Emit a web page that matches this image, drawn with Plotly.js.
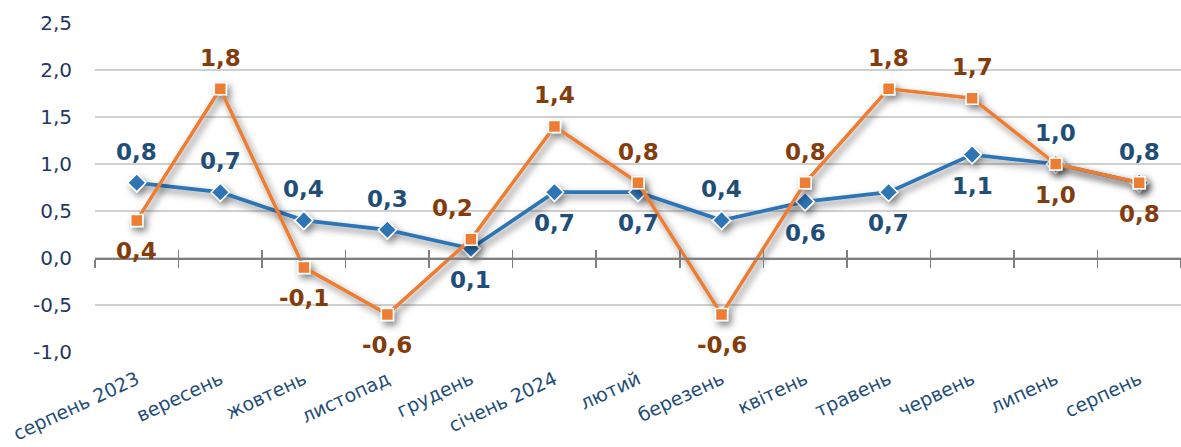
<!DOCTYPE html>
<html>
<head>
<meta charset="utf-8">
<script src="https://cdn.plot.ly/plotly-3.0.1.min.js"></script>
<style>
  html, body { margin: 0; padding: 0; background: #ffffff; }
  #chart { width: 1181px; height: 447px; }
</style>
</head>
<body>
<div id="chart"></div>
<script>
const months = ['серпень 2023', 'вересень', 'жовтень', 'листопад', 'грудень', 'січень 2024',
  'лютий', 'березень', 'квітень', 'травень', 'червень', 'липень', 'серпень'];
const blueValues = [0.8, 0.7, 0.4, 0.3, 0.1, 0.7, 0.7, 0.4, 0.6, 0.7, 1.1, 1.0, 0.8];
const orangeValues = [0.4, 1.8, -0.1, -0.6, 0.2, 1.4, 0.8, -0.6, 0.8, 1.8, 1.7, 1.0, 0.8];
const yTickValues = [-1.0, -0.5, 0.0, 0.5, 1.0, 1.5, 2.0, 2.5];
// label placement: 't' above, 'b' below, 'tl' above-left
const blueLabelPlace = ['t', 't', 't', 't', 'b', 'b', 'b', 't', 'b', 'b', 'b', 't', 't'];
const orangeLabelPlace = ['b', 't', 'b', 'b', 'tl', 't', 't', 'b', 't', 't', 't', 'b', 'b'];

const fmt = v => v.toFixed(1).replace('.', ',');

const BLUE = '#2E75B6', ORANGE = '#ED7D31';
const BLUE_TXT = '#1F4E79', ORANGE_TXT = '#843C0C';
const AXIS_TXT = '#1F3864';

const traces = [
  {
    x: months, y: blueValues, type: 'scatter', mode: 'lines+markers',
    line: { color: BLUE, width: 3.75 },
    marker: { symbol: 'diamond', size: 14, color: BLUE, line: { color: '#ffffff', width: 1.5 } },
    hoverinfo: 'skip', showlegend: false
  },
  {
    x: months, y: orangeValues, type: 'scatter', mode: 'lines+markers',
    line: { color: ORANGE, width: 3.5 },
    marker: { symbol: 'square', size: 12, color: ORANGE, line: { color: '#ffffff', width: 1.5 } },
    hoverinfo: 'skip', showlegend: false
  },
  { x: months, y: blueValues, xaxis: 'x2', type: 'scatter', mode: 'none', hoverinfo: 'skip', showlegend: false },
  { x: months, y: blueValues, xaxis: 'x3', type: 'scatter', mode: 'none', hoverinfo: 'skip', showlegend: false }
];

function makeLabels(vals, place, color) {
  return vals.map((v, i) => {
    const p = place[i];
    return {
      x: months[i], y: v, xref: 'x', yref: 'y', text: fmt(v), showarrow: false,
      yshift: p === 'b' ? -31 : 31,
      xshift: p === 'tl' ? -18 : 0,
      font: { family: 'DejaVu Sans', size: 23, color: color, weight: 'bold' }
    };
  });
}

const annotations = makeLabels(blueValues, blueLabelPlace, BLUE_TXT)
  .concat(makeLabels(orangeValues, orangeLabelPlace, ORANGE_TXT));

const zeroPos = (0 - yTickValues[0]) / (yTickValues[yTickValues.length - 1] - yTickValues[0]);

const baseX2 = {
  type: 'category', categoryorder: 'array', categoryarray: months,
  range: [-0.5, months.length - 0.5],
  overlaying: 'x', anchor: 'free', position: zeroPos,
  showgrid: false, zeroline: false, showticklabels: false,
  showline: true, linecolor: '#7F7F7F', linewidth: 1.5,
  tickson: 'boundaries', ticklen: 8, tickcolor: '#7F7F7F', tickwidth: 1.5
};

const layout = {
  width: 1181, height: 447,
  margin: { l: 95, r: 0, t: 23, b: 95 },
  paper_bgcolor: '#ffffff', plot_bgcolor: '#ffffff',
  separators: ', ',
  xaxis: {
    type: 'category', categoryorder: 'array', categoryarray: months,
    range: [-0.5, months.length - 0.5],
    showgrid: false, zeroline: false, showline: false, ticks: '',
    tickangle: -25,
    tickfont: { family: 'DejaVu Sans', size: 19, color: BLUE_TXT },
    anchor: 'y', ticklabelstandoff: 12
  },
  xaxis2: Object.assign({}, baseX2, { ticks: 'outside' }),
  xaxis3: Object.assign({}, baseX2, { ticks: 'inside' }),
  yaxis: {
    range: [yTickValues[0], yTickValues[yTickValues.length - 1]],
    tickmode: 'array', tickvals: yTickValues,
    ticktext: yTickValues.map(fmt),
    showgrid: true, gridcolor: '#D0D0D0', gridwidth: 1.5,
    zeroline: false, showline: false, ticks: '',
    tickfont: { family: 'DejaVu Sans', size: 20, color: AXIS_TXT },
    ticklabelstandoff: 22
  },
  annotations: annotations
};

Plotly.newPlot('chart', traces, layout, { displayModeBar: false, staticPlot: true }).then(gd => {
  const svg = gd.querySelector('svg.main-svg');
  const ns = 'http://www.w3.org/2000/svg';
  let defs = svg.querySelector('defs');
  if (!defs) { defs = document.createElementNS(ns, 'defs'); svg.insertBefore(defs, svg.firstChild); }
  const filter = document.createElementNS(ns, 'filter');
  filter.setAttribute('id', 'lineShadow');
  filter.setAttribute('x', '-10%'); filter.setAttribute('y', '-30%');
  filter.setAttribute('width', '130%'); filter.setAttribute('height', '160%');
  const ds = document.createElementNS(ns, 'feDropShadow');
  ds.setAttribute('dx', '3'); ds.setAttribute('dy', '4'); ds.setAttribute('stdDeviation', '3.5');
  ds.setAttribute('flood-color', '#000000'); ds.setAttribute('flood-opacity', '0.5');
  filter.appendChild(ds);
  defs.appendChild(filter);
  const tr = gd.querySelectorAll('.scatterlayer .trace');
  tr.forEach((g, i) => { if (i < 2) g.setAttribute('filter', 'url(#lineShadow)'); });
});
</script>
</body>
</html>
